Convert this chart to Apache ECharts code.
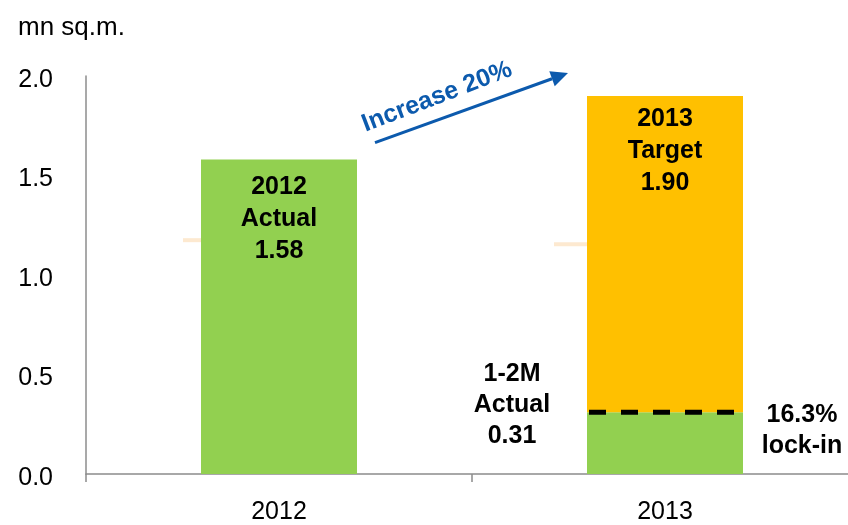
<!DOCTYPE html>
<html><head><meta charset="utf-8">
<script src="https://cdn.jsdelivr.net/npm/echarts@6/dist/echarts.min.js"></script>
<style>html,body{margin:0;padding:0;background:#fff;overflow:hidden}#c{width:858px;height:525px}</style>
</head><body><div id="c"></div>
<script>
var categories = ['2012', '2013'];
var actualValues = [1.58, 0.31];
var targetTotal = [null, 1.90];
var remainderValues = [null, 1.90 - 0.31];
var yTicks = [0, 0.5, 1.0, 1.5, 2.0];
var lockInText = '16.3%\nlock-in';
var ytdText = '1-2M\nActual\n0.31';
var increaseText = 'Increase 20%';
var unitText = 'mn sq.m.';

var FONT = 'Liberation Sans, Arial, sans-serif';
var chart = echarts.init(document.getElementById('c'), null, {renderer: 'canvas'});
var labelStyle = {fontFamily: FONT, fontWeight: 'bold', fontSize: 25, color: '#000', lineHeight: 32};

chart.setOption({
  animation: false,
  backgroundColor: '#fff',
  title: {text: unitText, left: 13, top: 10,
    textStyle: {fontFamily: FONT, fontSize: 26, fontWeight: 'normal', color: '#000'}},
  grid: {left: 86, right: 0, top: 76, bottom: 49},
  xAxis: {
    type: 'category', data: categories,
    axisLine: {lineStyle: {color: '#8c8c8c', width: 1.5}},
    axisTick: {show: true, length: 8, lineStyle: {color: '#8c8c8c', width: 1.5}},
    axisLabel: {fontFamily: FONT, fontSize: 25, color: '#000', margin: 26}
  },
  yAxis: {
    type: 'value', min: yTicks[0], max: yTicks[yTicks.length - 1], interval: yTicks[1] - yTicks[0],
    axisLine: {show: true, lineStyle: {color: '#8c8c8c', width: 1.5}},
    axisTick: {show: false},
    splitLine: {show: false},
    axisLabel: {fontFamily: FONT, fontSize: 25, color: '#000', margin: 33,
      verticalAlign: 'top', lineHeight: 8,
      formatter: function (v) { return v.toFixed(1); }}
  },
  series: [
    {
      type: 'bar', stack: 's', barWidth: 156,
      data: actualValues.map(function (v, i) {
        var d = {value: v, itemStyle: {color: '#92d050'}};
        if (i === 0) {
          d.label = {show: true, position: 'insideTop', distance: 12,
            formatter: categories[0] + '\nActual\n' + v.toFixed(2)};
          for (var k in labelStyle) d.label[k] = labelStyle[k];
        }
        return d;
      })
    },
    {
      type: 'bar', stack: 's', barWidth: 156,
      itemStyle: {color: '#ffc000'},
      data: remainderValues.map(function (v, i) {
        if (v === null) return null;
        var d = {value: v, label: {show: true, position: 'insideTop', distance: 7,
          formatter: categories[i] + '\nTarget\n' + targetTotal[i].toFixed(2)}};
        for (var k in labelStyle) d.label[k] = labelStyle[k];
        return d;
      })
    }
  ]
});

function px(cat, val) { return chart.convertToPixel({gridIndex: 0}, [cat, val]); }
var halfBar = 78;
var p13 = px(categories[1], actualValues[1]);
var pTopL = px(categories[0], 1.175);
var pTopR = px(categories[1], 1.155);
var pArrowA = px(categories[0], 1.665);
var pArrowB = px(categories[1], 2.015);
var pYtd = px(categories[1], 0.345);
var pLock = px(categories[1], 0.22);

var g = [
  {type: 'line', shape: {x1: p13[0] - halfBar + 2, y1: p13[1], x2: p13[0] + halfBar, y2: p13[1]},
   style: {stroke: '#000', lineWidth: 5, lineDash: [17, 15]}, z: 10},
  {type: 'line', shape: {x1: pTopL[0] - 96, y1: pTopL[1], x2: pTopL[0] - 78, y2: pTopL[1]},
   style: {stroke: '#fde9d0', lineWidth: 4}, z: 1},
  {type: 'line', shape: {x1: pTopR[0] - 111, y1: pTopR[1], x2: pTopR[0] - 78, y2: pTopR[1]},
   style: {stroke: '#fde9d0', lineWidth: 4}, z: 1},
  {type: 'text', x: p13[0] - 153, y: pYtd[1], z: 10,
   style: {text: ytdText, fontFamily: FONT, fontWeight: 'bold', fontSize: 25, fill: '#000',
     lineHeight: 31, align: 'center', verticalAlign: 'middle'}},
  {type: 'text', x: p13[0] + 137, y: pLock[1], z: 10,
   style: {text: lockInText, fontFamily: FONT, fontWeight: 'bold', fontSize: 25, fill: '#000',
     lineHeight: 31, align: 'center', verticalAlign: 'middle'}}
];
// arrow
var ax1 = pArrowA[0] + 96, ay1 = pArrowA[1];
var ax2 = pArrowB[0] - 97, ay2 = pArrowB[1];
var ang = Math.atan2(ay2 - ay1, ax2 - ax1);
var hl = 17, hw = 8;
var bx = ax2 - hl * Math.cos(ang), by = ay2 - hl * Math.sin(ang);
g.push({type: 'line', shape: {x1: ax1, y1: ay1, x2: bx, y2: by}, style: {stroke: '#0c5aad', lineWidth: 3}, z: 10});
g.push({type: 'polygon', shape: {points: [[ax2, ay2],
  [bx + hw * Math.sin(ang), by - hw * Math.cos(ang)],
  [bx - hw * Math.sin(ang), by + hw * Math.cos(ang)]]}, style: {fill: '#0c5aad'}, z: 10});
g.push({type: 'text', x: 437, y: 97, rotation: 21 * Math.PI / 180, z: 10,
  style: {text: increaseText, fontFamily: FONT, fontWeight: 'bold', fontSize: 25, fill: '#0c5aad',
    align: 'center', verticalAlign: 'middle'}});
chart.setOption({graphic: g});
</script></body></html>
